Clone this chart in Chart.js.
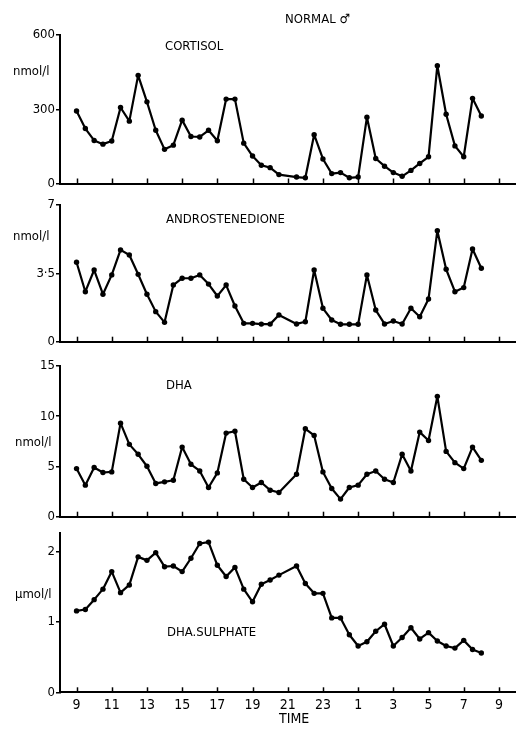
<!DOCTYPE html>
<html>
<head>
<meta charset="utf-8">
<script src="https://cdn.jsdelivr.net/npm/chart.js@4.4.0/dist/chart.umd.min.js"></script>
<style>
  body { margin: 0; background: #fff; }
  #page { position: relative; width: 516px; height: 731px; overflow: hidden; }
  canvas { position: absolute; left: 0; top: 0; pointer-events: none; }
  .lbl { position: absolute; font-family: "DejaVu Sans Condensed", "Liberation Sans Narrow", sans-serif;
         font-size: 13px; color: #000; white-space: nowrap; transform: translateY(-50%); line-height: 1; }
</style>
</head>
<body>
<div id="page">
  <canvas id="c1" width="516" height="731"></canvas>
  <canvas id="c2" width="516" height="731"></canvas>
  <canvas id="c3" width="516" height="731"></canvas>
  <canvas id="c4" width="516" height="731"></canvas>
  <div class="lbl" style="left:285px;top:18px">NORMAL ♂</div>
  <div class="lbl" style="left:165px;top:45px">CORTISOL</div>
  <div class="lbl" style="left:166px;top:218px">ANDROSTENEDIONE</div>
  <div class="lbl" style="left:166px;top:384px">DHA</div>
  <div class="lbl" style="left:167px;top:631px">DHA.SULPHATE</div>
  <div class="lbl" style="left:13px;top:70px">nmol/l</div>
  <div class="lbl" style="left:13px;top:235px">nmol/l</div>
  <div class="lbl" style="left:15px;top:441px">nmol/l</div>
  <div class="lbl" style="left:15px;top:593px">µmol/l</div>
  <div class="lbl" style="left:279px;top:718px;font-size:14px">TIME</div>
</div>
<script>
// sample times in hours from 09:00 (24+ = next day); no sample at 21:00
const times = [9, 9.5, 10, 10.5, 11, 11.5, 12, 12.5, 13, 13.5, 14, 14.5, 15, 15.5, 16, 16.5,
  17, 17.5, 18, 18.5, 19, 19.5, 20, 20.5, 21.5, 22, 22.5, 23, 23.5, 24, 24.5, 25, 25.5, 26,
  26.5, 27, 27.5, 28, 28.5, 29, 29.5, 30, 30.5, 31, 31.5, 32];

const cortisol = [293, 222, 174, 159, 172, 307, 252, 437, 330, 215, 138, 155, 256, 190, 188, 215,
  173, 341, 341, 163, 111, 74, 64, 36, 26, 23, 197, 99, 40, 44, 23, 26, 268, 101,
  70, 44, 29, 53, 81, 108, 476, 280, 152, 108, 344, 273];

const androstenedione = [4.07, 2.56, 3.67, 2.43, 3.42, 4.70, 4.44, 3.45, 2.43, 1.54, 0.99, 2.90, 3.25, 3.25, 3.42, 2.95,
  2.34, 2.90, 1.83, 0.94, 0.94, 0.90, 0.90, 1.37, 0.91, 1.02, 3.67, 1.71, 1.11, 0.89, 0.89, 0.89, 3.42, 1.62,
  0.91, 1.06, 0.91, 1.71, 1.28, 2.19, 5.68, 3.71, 2.56, 2.77, 4.75, 3.76];

const dha = [4.79, 3.14, 4.89, 4.40, 4.46, 9.31, 7.20, 6.21, 5.02, 3.31, 3.47, 3.63, 6.93, 5.22, 4.55, 2.91,
  4.36, 8.32, 8.51, 3.73, 2.91, 3.40, 2.64, 2.41, 4.23, 8.75, 8.09, 4.46, 2.81, 1.75, 2.91, 3.14, 4.23, 4.55,
  3.73, 3.40, 6.21, 4.55, 8.42, 7.59, 11.98, 6.50, 5.38, 4.79, 6.93, 5.61];

const dhaSulphate = [1.16, 1.18, 1.32, 1.47, 1.72, 1.42, 1.53, 1.93, 1.88, 1.99, 1.79, 1.80, 1.72, 1.91, 2.12, 2.14,
  1.81, 1.65, 1.78, 1.47, 1.29, 1.54, 1.60, 1.67, 1.80, 1.55, 1.41, 1.41, 1.06, 1.06, 0.82, 0.66, 0.72, 0.87,
  0.97, 0.66, 0.78, 0.92, 0.76, 0.85, 0.73, 0.66, 0.63, 0.74, 0.61, 0.56];

const timeTicks = [9, 11, 13, 15, 17, 19, 21, 23, 25, 27, 29, 31, 33];
const cortisolTicks = [0, 300, 600];
const androTicks = [0, 3.5, 7];
const dhaTicks = [0, 5, 10, 15];
const sulphateTicks = [0, 1, 2];

const FONT = '"DejaVu Sans Condensed", "Liberation Sans Narrow", sans-serif';

// small x ticks pointing up into the plot, like the original
const innerTicks = {
  id: 'innerTicks',
  afterDraw(chart) {
    const ctx = chart.ctx, xs = chart.scales.x, b = chart.chartArea.bottom;
    ctx.save();
    ctx.strokeStyle = '#000';
    ctx.lineWidth = 1.5;
    xs.ticks.forEach(t => {
      const px = Math.round(xs.getPixelForValue(t.value)) + 0.5;
      ctx.beginPath();
      ctx.moveTo(px, b);
      ctx.lineTo(px, b - 5);
      ctx.stroke();
    });
    ctx.restore();
  }
};

function panel(id, values, yTicks, yMax, top, bottom, last) {
  const ctx = document.getElementById(id).getContext('2d');
  new Chart(ctx, {
    type: 'line',
    data: {
      datasets: [{
        data: times.map((t, i) => ({ x: t, y: values[i] })),
        borderColor: '#000',
        borderWidth: 2.2,
        borderJoinStyle: 'round',
        pointRadius: 2.7,
        pointBackgroundColor: '#000',
        pointBorderWidth: 0,
        tension: 0,
        clip: false
      }]
    },
    options: {
      responsive: false,
      animation: false,
      events: [],
      layout: { autoPadding: false, padding: { top: top, bottom: last ? 0 : 731 - bottom, left: 0, right: 0 } },
      plugins: { legend: { display: false }, tooltip: { enabled: false } },
      scales: {
        x: {
          type: 'linear',
          min: 8.06,
          max: 33.97,
          afterBuildTicks(scale) { scale.ticks = timeTicks.map(v => ({ value: v })); },
          afterFit(scale) { scale.height = last ? 731 - bottom : 0; },
          grid: { display: false, drawTicks: false },
          border: { display: true, color: '#000', width: 2 },
          ticks: {
            display: last,
            padding: 5,
            color: '#000',
            font: { family: FONT, size: 14 },
            maxRotation: 0,
            autoSkip: false,
            callback: v => ((v - 1) % 24) + 1
          }
        },
        y: {
          min: 0,
          max: yMax,
          afterBuildTicks(scale) { scale.ticks = yTicks.map(v => ({ value: v })); },
          afterFit(scale) { scale.width = 60; },
          grid: { drawOnChartArea: false, tickLength: 4, color: '#000', lineWidth: 1.5 },
          border: { display: true, color: '#000', width: 2 },
          ticks: {
            padding: 1,
            color: '#000',
            font: { family: FONT, size: 13 },
            callback: v => String(v).replace('.', '·')
          }
        }
      }
    },
    plugins: [innerTicks]
  });
}

panel('c1', cortisol, cortisolTicks, 600, 35, 183.5, false);
panel('c2', androstenedione, androTicks, 7, 205, 341.7, false);
panel('c3', dha, dhaTicks, 15, 366, 516.7, false);
panel('c4', dhaSulphate, sulphateTicks, 2.27, 533, 692.3, true);
</script>
</body>
</html>
